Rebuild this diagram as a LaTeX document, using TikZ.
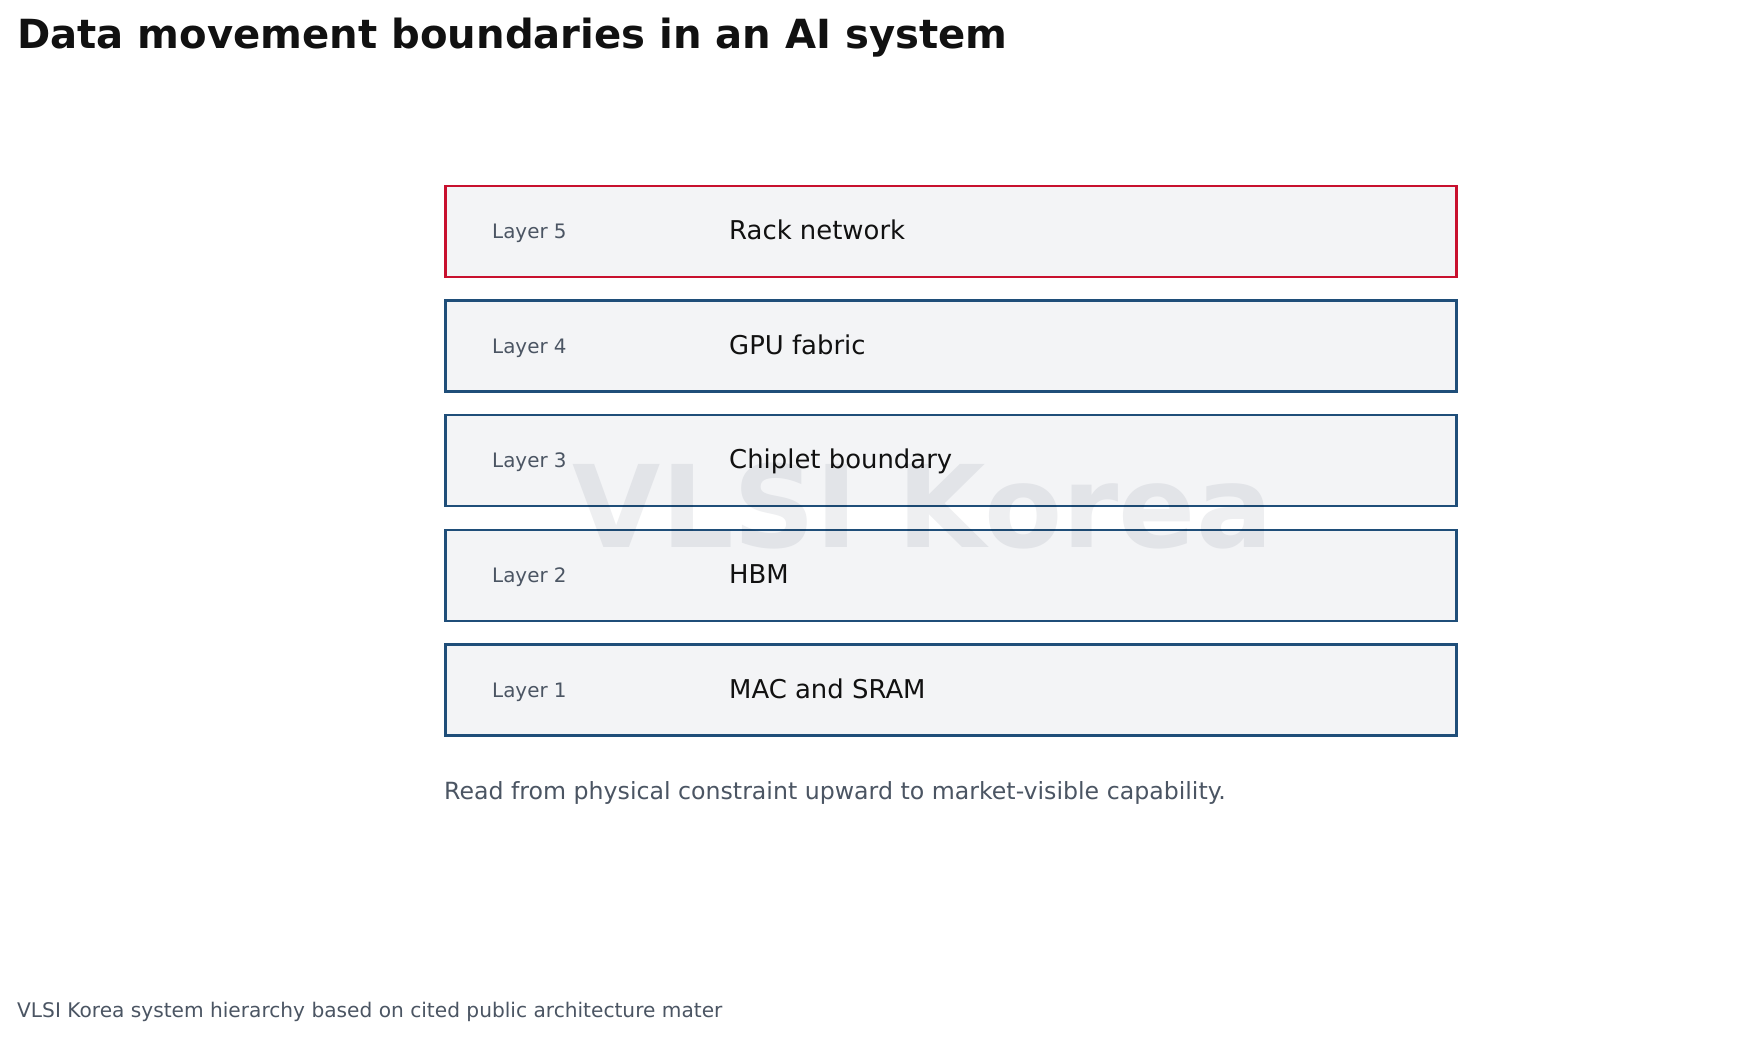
\documentclass[tikz,border=0pt]{standalone}
\usepackage{fontspec}
\setmainfont{DejaVu Sans}
\definecolor{boxfill}{HTML}{F3F4F6}
\definecolor{blueedge}{HTML}{1F4E79}
\definecolor{rededge}{HTML}{C8102E}
\definecolor{graytext}{HTML}{4B5563}
\definecolor{maintext}{HTML}{111111}
\definecolor{wmark}{HTML}{EEEFF1}
\tikzset{
  layerbox/.style={draw=blueedge, line width=2.6pt, fill=boxfill, minimum width=1011pt, minimum height=91pt, inner sep=0pt, anchor=west},
  topbox/.style={layerbox, draw=rededge},
  layerlabel/.style={anchor=base west, inner sep=0pt, text=graytext, font=\fontsize{19.9}{22}\selectfont},
  layername/.style={anchor=base west, inner sep=0pt, text=maintext, font=\fontsize{25.9}{30}\selectfont},
}
\begin{document}
\begin{tikzpicture}[x=1pt, y=-1pt]
\useasboundingbox (0,0) rectangle (1757,1038);
\fill[white] (0,0) rectangle (1757,1038);
\node[anchor=base west, inner sep=0pt, text=maintext, font=\bfseries\fontsize{40.15}{46}\selectfont] (title) at (17,49) {Data movement boundaries in an AI system};
% boxes
\node[topbox] (b5) at (444,231.5) {};
\node[layerbox] (b4) at (444,346) {};
\node[layerbox] (b3) at (444,460.5) {};
\node[layerbox] (b2) at (444,575.5) {};
\node[layerbox] (b1) at (444,690) {};
% labels
\node[layerlabel] (l5) at (492,238.5) {Layer 5};
\node[layername] (n5) at (729,239.5) {Rack network};
\node[layerlabel] (l4) at (492,353) {Layer 4};
\node[layername] (n4) at (729,354) {GPU fabric};
\node[layerlabel] (l3) at (492,467.5) {Layer 3};
\node[layername] (n3) at (729,468.5) {Chiplet boundary};
\node[layerlabel] (l2) at (492,582.5) {Layer 2};
\node[layername] (n2) at (729,583.5) {HBM};
\node[layerlabel] (l1) at (492,697) {Layer 1};
\node[layername] (n1) at (729,698) {MAC and SRAM};
\node[anchor=base west, inner sep=0pt, text=graytext, font=\fontsize{23.65}{28}\selectfont] (sub) at (444,799) {Read from physical constraint upward to market-visible capability.};
\node[anchor=base west, inner sep=0pt, text=graytext, font=\fontsize{20.15}{24}\selectfont] (foot) at (17,1017) {VLSI Korea system hierarchy based on cited public architecture mater};
% watermark
\begin{scope}[blend mode=multiply]
\node[anchor=base, inner sep=0pt, text=wmark, font=\bfseries\fontsize{114}{130}\selectfont] (wm) at (923,547) {VLSI Korea};
\end{scope}
\end{tikzpicture}
\end{document}
